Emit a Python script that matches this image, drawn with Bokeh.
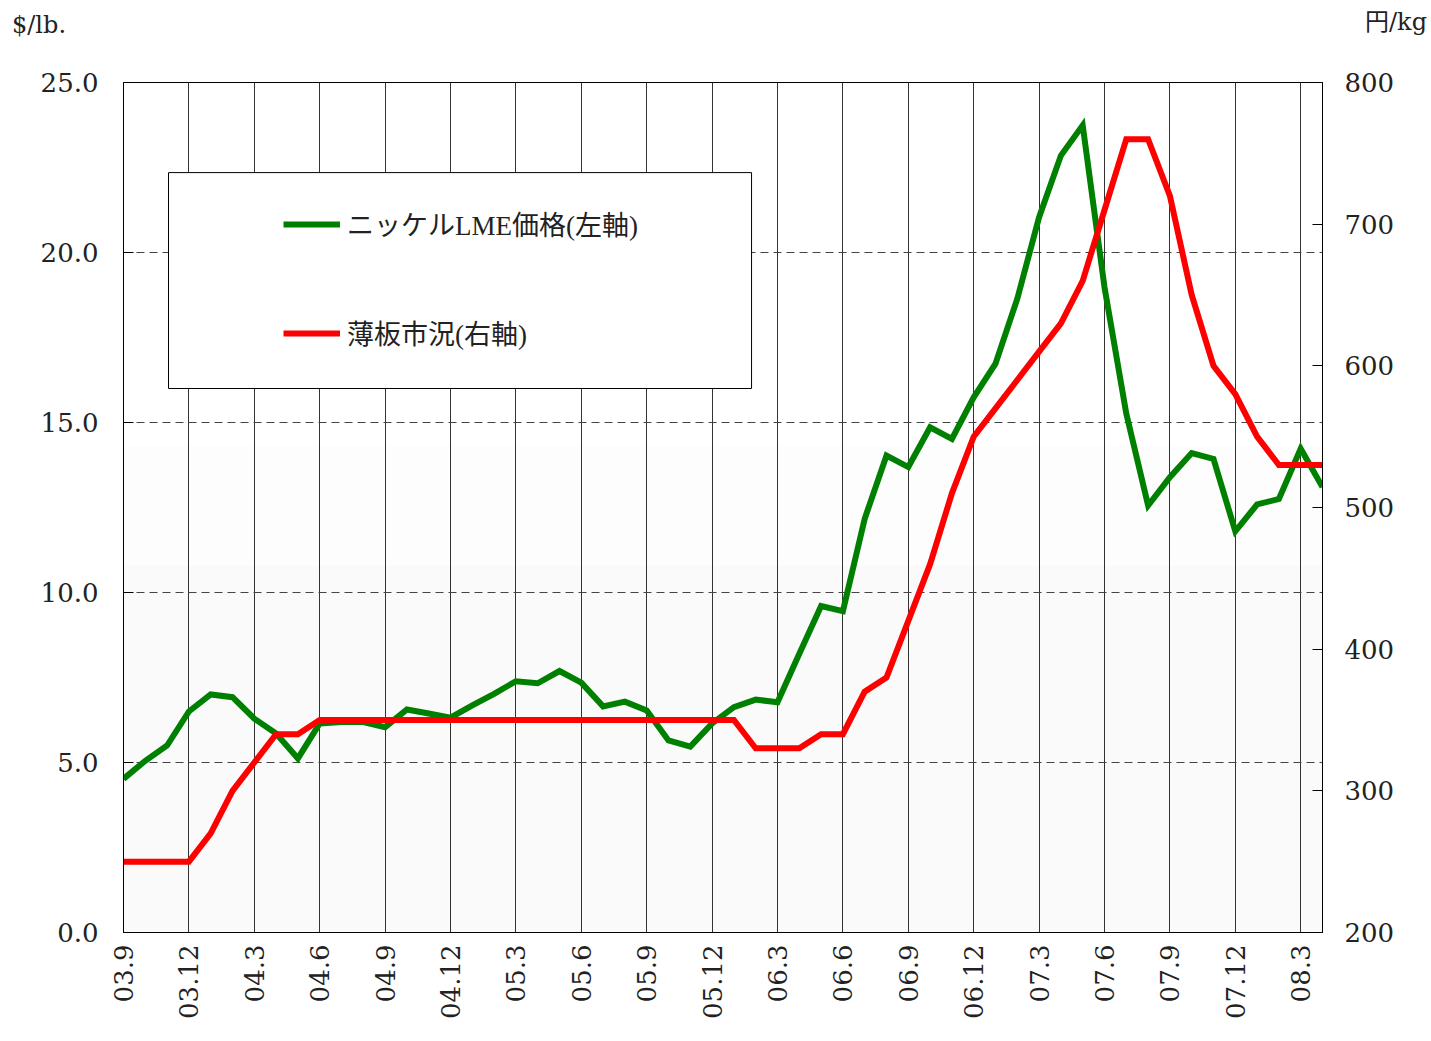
from bokeh.plotting import figure
from bokeh.layouts import column
from bokeh.models import (Range1d, LinearAxis, FixedTicker, Legend, LegendItem, Div,
                          BoxAnnotation, PrintfTickFormatter)
from bokeh.embed import file_html
from bokeh.resources import INLINE

months = ["03.9", "03.10", "03.11", "03.12",
          "04.1", "04.2", "04.3", "04.4", "04.5", "04.6", "04.7", "04.8", "04.9", "04.10", "04.11", "04.12",
          "05.1", "05.2", "05.3", "05.4", "05.5", "05.6", "05.7", "05.8", "05.9", "05.10", "05.11", "05.12",
          "06.1", "06.2", "06.3", "06.4", "06.5", "06.6", "06.7", "06.8", "06.9", "06.10", "06.11", "06.12",
          "07.1", "07.2", "07.3", "07.4", "07.5", "07.6", "07.7", "07.8", "07.9", "07.10", "07.11", "07.12",
          "08.1", "08.2", "08.3", "08.4"]

nickel_lme = [4.52, 5.05, 5.5, 6.5, 7.0, 6.92, 6.29, 5.85, 5.12, 6.15, 6.19, 6.19, 6.04, 6.56, 6.44, 6.32,
              6.68, 7.02, 7.39, 7.33, 7.69, 7.35, 6.65, 6.79, 6.53, 5.65, 5.47, 6.15,
              6.63, 6.85, 6.77, 8.2, 9.6, 9.45, 12.17, 14.03, 13.69, 14.86, 14.52, 15.74,
              16.73, 18.64, 21.04, 22.85, 23.74, 18.98, 15.26, 12.56, 13.39, 14.10, 13.93, 11.8,
              12.59, 12.75, 14.23, 13.1]

sheet_price = [250, 250, 250, 250,
               270, 300, 320, 340, 340, 350, 350, 350, 350, 350, 350, 350,
               350, 350, 350, 350, 350, 350, 350, 350, 350, 350, 350, 350,
               350, 330, 330, 330, 340, 340, 370, 380, 420, 460, 510, 550,
               570, 590, 610, 630, 660, 710, 760, 760, 720, 650, 600, 580,
               550, 530, 530, 530]

tick_labels = ["03.9", "03.12", "04.3", "04.6", "04.9", "04.12", "05.3", "05.6", "05.9",
               "05.12", "06.3", "06.6", "06.9", "06.12", "07.3", "07.6", "07.9", "07.12", "08.3"]

left_ticks = [0, 5, 10, 15, 20, 25]
right_ticks = [200, 300, 400, 500, 600, 700, 800]

series_names = ["ニッケルLME価格(左軸)", "薄板市況(右軸)"]
left_unit = "$/lb."
right_unit = "円/kg"

FONT = "Liberation Serif, Noto Sans CJK JP"
TICKFONT = "DejaVu Serif"

HEADER_H = 46

x = list(range(len(months)))
tick_pos = [months.index(t) for t in tick_labels]

# header with the two unit captions (left and right of the top edge)
header_html = (
    '<div style="position:relative; width:1431px; height:%dpx; '
    "font-family:'DejaVu Serif','Noto Sans CJK JP',serif; font-size:24px; color:#222222; line-height:28px;\">"
    '<span style="position:absolute; left:12px; top:11px; white-space:nowrap;">%s</span>'
    '<span style="position:absolute; right:4px; top:8px; white-space:nowrap;">%s</span>'
    '</div>' % (HEADER_H, left_unit, right_unit)
)
header = Div(text=header_html, width=1431, height=HEADER_H, margin=0, disable_math=True)

p = figure(width=1431, height=1041 - HEADER_H, output_backend="svg", toolbar_location=None,
           x_range=Range1d(0, len(months) - 1), y_range=Range1d(0, 25),
           min_border_left=123, min_border_right=109, min_border_top=82 - HEADER_H,
           min_border_bottom=109, margin=0,
           background_fill_color="white", border_fill_color="white")
p.extra_y_ranges = {"right": Range1d(200, 800)}

p.outline_line_color = "black"
p.outline_line_width = 1

# very subtle shading in the lower part of the plot area
p.add_layout(BoxAnnotation(bottom=0, top=14.3, fill_color="#fdfdfd", fill_alpha=1.0,
                           line_alpha=0, level="image"))
p.add_layout(BoxAnnotation(bottom=0, top=10.8, fill_color="#fafafa", fill_alpha=1.0,
                           line_alpha=0, level="image"))

# x axis
xa = p.xaxis[0]
xa.ticker = FixedTicker(ticks=tick_pos)
xa.major_label_overrides = {pos: lab for pos, lab in zip(tick_pos, tick_labels)}
xa.major_label_orientation = 1.5707963
xa.major_tick_in = 0
xa.major_tick_out = 0
xa.minor_tick_line_color = None
xa.major_label_standoff = 12
xa.major_label_text_font = TICKFONT
xa.major_label_text_font_size = "26px"
xa.major_label_text_color = "#222222"
xa.axis_line_color = "black"

# left axis
ya = p.yaxis[0]
ya.ticker = FixedTicker(ticks=left_ticks)
ya.formatter = PrintfTickFormatter(format="%.1f")
ya.major_tick_in = 10
ya.major_tick_out = 0
ya.minor_tick_line_color = None
ya.major_label_standoff = 25
ya.major_label_text_font = TICKFONT
ya.major_label_text_font_size = "26px"
ya.major_label_text_color = "#222222"
ya.axis_line_color = "black"

# right axis
ra = LinearAxis(y_range_name="right", ticker=FixedTicker(ticks=right_ticks),
                formatter=PrintfTickFormatter(format="%d"))
ra.major_tick_in = 10
ra.major_tick_out = 0
ra.minor_tick_line_color = None
ra.major_label_standoff = 22
ra.major_label_text_font = TICKFONT
ra.major_label_text_font_size = "26px"
ra.major_label_text_color = "#222222"
ra.axis_line_color = "black"
p.add_layout(ra, "right")

# grids
p.xgrid.ticker = FixedTicker(ticks=tick_pos)
p.xgrid.grid_line_color = "#333333"
p.xgrid.grid_line_width = 1
p.ygrid.ticker = FixedTicker(ticks=[5, 10, 15, 20])
p.ygrid.grid_line_color = "#444444"
p.ygrid.grid_line_dash = "8 5"
p.ygrid.grid_line_width = 1

# lines
g = p.line(x, nickel_lme, line_color="#008000", line_width=6, line_join="miter")
r = p.line(x, sheet_price, line_color="#ff0000", line_width=6, line_join="miter", y_range_name="right")

# legend box
p.add_layout(BoxAnnotation(left=2.065, right=28.81, bottom=16.0, top=22.35,
                           fill_color="white", fill_alpha=1.0, line_color="black",
                           line_alpha=1.0, line_width=1))

legend = Legend(items=[LegendItem(label=series_names[0], renderers=[g]),
                       LegendItem(label=series_names[1], renderers=[r])],
                location=(160, 580), orientation="vertical",
                glyph_width=57, glyph_height=30, label_height=30, label_standoff=7,
                padding=0, spacing=70, margin=0,
                border_line_alpha=0, background_fill_alpha=0,
                label_text_font=FONT, label_text_font_size="27px", label_text_color="#222222")
p.add_layout(legend, "center")

page = column(header, p, spacing=0, margin=0)

open("out.html", "w").write(file_html(page, INLINE))
